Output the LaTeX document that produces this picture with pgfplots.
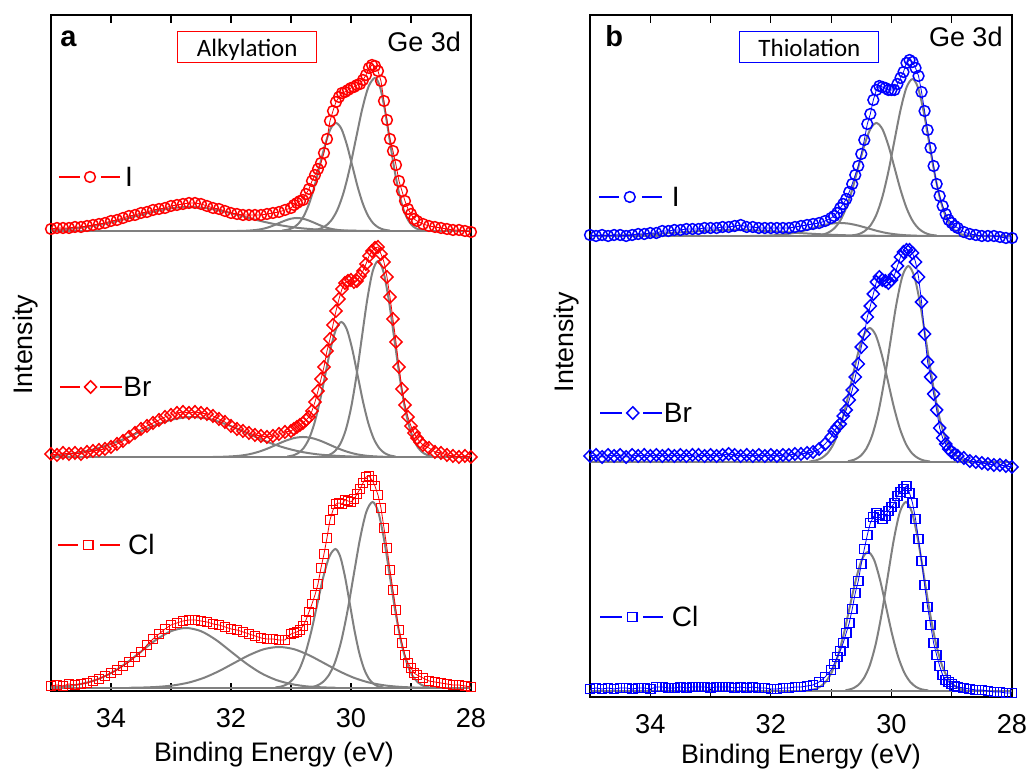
\documentclass[border=0pt]{standalone}
\usepackage{pgfplots}
\pgfplotsset{compat=1.18}
\usepackage{fontspec}
\setmainfont{Liberation Sans}
\newfontfamily\carlito{Carlito}

\pgfplotsset{
  spec/.style={
    scale only axis, x dir=reverse, xmin=28, xmax=35, ymin=0,
    xtick={28,29,...,34}, xticklabels={28,,30,,32,,34},
    ytick=\empty,
    major tick length=4pt, minor tick length=1.5pt,
    axis line style={line width=0.6pt},
    every tick/.style={black, line width=0.6pt},
    tick label style={font=\fontsize{13.6}{16}\selectfont},
    xticklabel style={yshift=-5pt},
    /pgf/number format/assume math mode=true,
    label style={font=\fontsize{13.4}{16}\selectfont},
    xlabel={Binding Energy (eV)}, ylabel={Intensity},
  },
  comp/.style={color=gray, line width=1pt, smooth, mark=none, y filter/.expression={y+#1}},
  base/.style={color=gray, line width=1pt, mark=none, y filter/.expression={y+#1}},
  circ/.style={line width=0.4pt, mark=o, mark size=2.7pt, mark options={line width=0.75pt}},
  diam/.style={line width=0.4pt, mark=diamond, mark size=3.1pt, mark options={line width=0.75pt, xscale=1.3}},
  sq/.style={line width=0.4pt, mark=square, mark size=2.3pt, mark options={line width=0.75pt}},
  off/.style={y filter/.expression={y+#1}},
  leg/.style={line width=0.8pt, mark=none},
}

\begin{document}
\begin{tikzpicture}
\useasboundingbox (0,0) rectangle (514.5pt,384.5pt);

% ---------------- panel a : alkylation ----------------
\begin{axis}[spec, at={(25.5pt,39pt)}, anchor=south west,
  width=210pt, height=338pt, ymax=676,
  minor ytick={16,43,...,664},
  xlabel style={at={(axis description cs:0.531,-0.1046)}, anchor=base},
  ylabel style={at={(axis description cs:-0.0436,0.512)}, anchor=base},
]
% I : fitted components
\addplot[base=460] coordinates {(28,0)(35,0)};
\addplot[comp=460] coordinates {(28.80,0.6)(28.88,1.7)(28.96,4.4)(29.04,10.1)(29.12,20.7)(29.20,38.1)(29.28,62.9)(29.36,92.9)(29.44,122.6)(29.52,144.7)(29.60,153)(29.705,144.7)(29.81,122.6)(29.915,92.9)(30.02,62.9)(30.125,38.1)(30.23,20.7)(30.335,10.1)(30.44,4.4)(30.545,1.7)(30.65,0.6)};
\addplot[comp=460] coordinates {(29.35,0.4)(29.44,1.2)(29.53,3.1)(29.62,7.1)(29.71,14.6)(29.80,26.9)(29.89,44.4)(29.98,65.6)(30.07,86.5)(30.16,102.2)(30.25,108)(30.34,102.2)(30.43,86.5)(30.52,65.6)(30.61,44.4)(30.70,26.9)(30.79,14.6)(30.88,7.1)(30.97,3.1)(31.06,1.2)(31.15,0.4)};
\addplot[comp=460] coordinates {(29.9,0)(30.0,0.1)(30.1,0.4)(30.2,0.9)(30.3,1.8)(30.4,3.2)(30.5,5.3)(30.6,7.9)(30.7,10.4)(30.8,12.3)(30.9,13)(31.0,12.3)(31.1,10.4)(31.2,7.9)(31.3,5.3)(31.4,3.2)(31.5,1.8)(31.6,0.9)(31.7,0.4)(31.8,0.1)(31.9,0)};
\addplot[comp=460] coordinates {(29.7,0.1)(30.0,0.3)(30.3,0.7)(30.6,1.6)(30.9,3.2)(31.2,6.0)(31.5,9.9)(31.8,14.6)(32.1,19.2)(32.4,22.7)(32.7,24)(33.0,22.7)(33.3,19.2)(33.6,14.6)(33.9,9.9)(34.2,6.0)(34.5,3.2)(34.8,1.6)(35.1,0.7)(35.4,0.3)(35.7,0.1)};
% I : data
\addplot[red, circ, off=460] coordinates {
(35.0,2)(34.9,3)(34.8,3)(34.7,3)(34.6,4)(34.5,4)(34.4,5)(34.3,6)(34.2,7)(34.1,8)(34.0,10)(33.9,11)(33.8,13)(33.7,15)(33.6,16)(33.5,18)(33.4,19)(33.3,21)(33.2,22)(33.1,23)(33.0,25)(32.9,26)(32.8,27)(32.7,28)(32.6,28)(32.5,27)(32.4,25)(32.3,23)(32.2,22)(32.1,20)(32.0,18)(31.9,17)(31.8,16)(31.7,16)(31.6,16)(31.5,16)(31.4,17)(31.3,18)(31.2,19)(31.1,21)(31.0,23)
(30.95,26)(30.9,28)(30.85,30)(30.8,31)(30.75,37)(30.7,42)(30.65,50)(30.6,56)(30.55,62)(30.5,68)(30.45,78)(30.4,92)(30.35,110)(30.3,120)(30.25,129)(30.2,134)(30.15,138)(30.1,139)(30.05,141)(30.0,143)(29.95,144)(29.9,146)(29.85,147)(29.8,151)(29.75,156)(29.7,163)(29.65,166)(29.6,165)(29.55,160)(29.5,150)(29.45,130)(29.4,111)(29.35,92)(29.3,80)(29.25,66)(29.2,50)(29.15,40)(29.1,30)(29.05,22)(29.0,17)(28.95,12)(28.9,10)
(28.8,7)(28.7,5)(28.6,4)(28.5,3)(28.4,2)(28.3,1)(28.2,1)(28.1,0)(28.0,-1)};
% Br : fitted components
\addplot[base=234] coordinates {(28,0)(35,0)};
\addplot[comp=234] coordinates {(28.65,0.8)(28.74,2.2)(28.83,5.7)(28.92,12.9)(29.01,26.5)(29.10,48.8)(29.19,80.6)(29.28,119.0)(29.37,157.0)(29.46,185.4)(29.55,196)(29.64,185.4)(29.73,157.0)(29.82,119.0)(29.91,80.6)(30.00,48.8)(30.09,26.5)(30.18,12.9)(30.27,5.7)(30.36,2.2)(30.45,0.8)};
\addplot[comp=234] coordinates {(29.26,0.5)(29.35,1.5)(29.44,3.9)(29.53,8.9)(29.62,18.2)(29.71,33.6)(29.80,55.5)(29.89,81.9)(29.98,108.1)(30.07,127.7)(30.16,135)(30.25,127.7)(30.34,108.1)(30.43,81.9)(30.52,55.5)(30.61,33.6)(30.70,18.2)(30.79,8.9)(30.88,3.9)(30.97,1.5)(31.06,0.5)};
\addplot[comp=234] coordinates {(29.3,0.1)(29.45,0.2)(29.6,0.6)(29.75,1.3)(29.9,2.7)(30.05,5.0)(30.2,8.2)(30.35,12.1)(30.5,16.0)(30.65,18.9)(30.8,20)(30.95,18.9)(31.1,16.0)(31.25,12.1)(31.4,8.2)(31.55,5.0)(31.7,2.7)(31.85,1.3)(32.0,0.6)(32.15,0.2)(32.3,0.1)};
\addplot[comp=234] coordinates {(29.65,0.2)(29.95,0.4)(30.25,1.2)(30.55,2.6)(30.85,5.4)(31.15,10.0)(31.45,16.4)(31.75,24.3)(32.05,32.0)(32.35,37.8)(32.65,40)(32.95,37.8)(33.25,32.0)(33.55,24.3)(33.85,16.4)(34.15,10.0)(34.45,5.4)(34.75,2.6)(35.05,1.2)(35.35,0.4)(35.65,0.2)};
% Br : data
\addplot[red, diam, off=234] coordinates {
(35.0,3)(34.9,2)(34.8,4)(34.7,3)(34.6,4)(34.5,3)(34.4,5)(34.3,6)(34.2,7)(34.1,8)(34.0,10)(33.9,13)(33.8,16)(33.7,20)(33.6,24)(33.5,28)(33.4,31)(33.3,34)(33.2,37)(33.1,40)(33.0,42)(32.9,44)(32.8,45)(32.7,44)(32.6,45)(32.5,44)(32.4,43)(32.3,41)(32.2,38)(32.1,35)(32.0,31)(31.9,28)(31.8,26)(31.7,24)(31.6,22)(31.5,21)(31.4,20)(31.3,21)(31.2,23)(31.1,25)(31.0,26)
(30.95,28)(30.9,30)(30.85,32)(30.8,34)(30.75,37)(30.7,40)(30.65,46)(30.6,55)(30.55,66)(30.5,78)(30.45,90)(30.4,106)(30.35,118)(30.3,132)(30.25,146)(30.2,158)(30.15,168)(30.1,174)(30.05,176)(30.0,177)(29.95,175)(29.9,176)(29.85,181)(29.8,186)(29.75,193)(29.7,201)(29.65,206)(29.6,209)(29.55,210)(29.5,203)(29.45,195)(29.4,180)(29.35,160)(29.3,138)(29.25,115)(29.2,90)(29.15,68)(29.1,52)(29.05,40)(29.0,31)(28.95,24)(28.9,19)(28.85,15)
(28.8,12)(28.7,9)(28.6,5)(28.5,4)(28.4,2)(28.3,1)(28.2,0)(28.1,1)(28.0,0)};
% Cl : fitted components
\addplot[base=3] coordinates {(28,0)(35,0)};
\addplot[comp=3] coordinates {(28.69,0.7)(28.785,2.0)(28.88,5.4)(28.975,12.3)(29.07,25.1)(29.165,46.3)(29.26,76.4)(29.355,112.9)(29.45,149.0)(29.545,176.0)(29.64,186)(29.745,176.0)(29.85,149.0)(29.955,112.9)(30.06,76.4)(30.165,46.3)(30.27,25.1)(30.375,12.3)(30.48,5.4)(30.585,2.0)(30.69,0.7)};
\addplot[comp=3] coordinates {(29.46,0.6)(29.54,1.5)(29.62,4.0)(29.70,9.2)(29.78,18.8)(29.86,34.6)(29.94,57.1)(30.02,84.4)(30.10,111.3)(30.18,131.5)(30.26,139)(30.36,131.5)(30.46,111.3)(30.56,84.4)(30.66,57.1)(30.76,34.6)(30.86,18.8)(30.96,9.2)(31.06,4.0)(31.16,1.5)(31.26,0.6)};
\addplot[comp=3] coordinates {(28.7,0.2)(28.95,0.5)(29.2,1.2)(29.45,2.7)(29.7,5.5)(29.95,10.2)(30.2,16.9)(30.45,24.9)(30.7,32.8)(30.95,38.8)(31.2,41)(31.45,38.8)(31.7,32.8)(31.95,24.9)(32.2,16.9)(32.45,10.2)(32.7,5.5)(32.95,2.7)(33.2,1.2)(33.45,0.5)(33.7,0.2)};
\addplot[comp=3] coordinates {(30.25,0.2)(30.5,0.7)(30.75,1.7)(31.0,4.0)(31.25,8.1)(31.5,14.9)(31.75,24.7)(32.0,36.4)(32.25,48.1)(32.5,56.8)(32.75,60)(33.0,56.8)(33.25,48.1)(33.5,36.4)(33.75,24.7)(34.0,14.9)(34.25,8.1)(34.5,4.0)(34.75,1.7)(35.0,0.7)(35.25,0.2)};
% Cl : data
\addplot[red, sq, off=3] coordinates {
(35.0,2)(34.9,3)(34.8,2)(34.7,4)(34.6,3)(34.5,4)(34.4,5)(34.3,7)(34.2,9)(34.1,12)(34.0,15)(33.9,18)(33.8,22)(33.7,26)(33.6,31)(33.5,36)(33.4,43)(33.3,49)(33.2,54)(33.1,59)(33.0,63)(32.9,65)(32.8,67)(32.7,68)(32.6,68)(32.5,67)(32.4,66)(32.3,64)(32.2,63)(32.1,61)(32.0,59)(31.9,58)(31.8,56)(31.7,54)(31.6,52)(31.5,50)(31.4,49)(31.3,49)(31.2,48)(31.1,48)(31.0,54)
(30.95,55)(30.9,56)(30.85,58)(30.8,62)(30.75,68)(30.7,76)(30.65,84)(30.6,93)(30.55,104)(30.5,120)(30.45,134)(30.4,150)(30.35,168)(30.3,178)(30.25,184)(30.2,185)(30.15,184)(30.1,188)(30.05,187)(30.0,186)(29.95,189)(29.9,194)(29.85,199)(29.8,205)(29.75,211)(29.7,212)(29.65,208)(29.6,202)(29.55,193)(29.5,180)(29.45,160)(29.4,140)(29.35,118)(29.3,98)(29.25,78)(29.2,58)(29.15,45)(29.1,33)(29.05,25)(29.0,20)(28.95,15)(28.9,13)
(28.8,10)(28.7,7)(28.6,6)(28.5,5)(28.4,4)(28.3,3)(28.2,3)(28.1,2)(28.0,1)};
% legend keys
\addplot[red, leg] coordinates {(34.87,514)(34.52,514)};
\addplot[red, circ, only marks] coordinates {(34.35,514)};
\addplot[red, leg] coordinates {(34.17,514)(33.85,514)};
\addplot[red, leg] coordinates {(34.85,304)(34.52,304)};
\addplot[red, diam, only marks] coordinates {(34.34,304)};
\addplot[red, leg] coordinates {(34.18,304)(33.82,304)};
\addplot[red, leg] coordinates {(34.88,146)(34.55,146)};
\addplot[red, sq, only marks] coordinates {(34.38,146)};
\addplot[red, leg] coordinates {(34.18,146)(33.85,146)};
\node[anchor=west, inner sep=0, font=\fontsize{14}{16}\selectfont] at (axis cs:33.77,514) {I};
\node[anchor=west, inner sep=0, font=\fontsize{14}{16}\selectfont] at (axis cs:33.80,304) {Br};
\node[anchor=west, inner sep=0, font=\fontsize{14}{16}\selectfont] at (axis cs:33.72,146) {Cl};
\node[anchor=base west, inner sep=0, font=\bfseries\fontsize{14.5}{16}\selectfont] at (axis cs:34.85,644) {a};
\node[anchor=base east, inner sep=0, font=\fontsize{13.5}{16}\selectfont] at (axis cs:28.16,639.3) {Ge 3d};
\node[draw=red, line width=0.5pt, minimum width=69.5pt, minimum height=15.5pt, inner sep=0pt, text depth=0pt, font=\carlito\fontsize{12.5}{14}\selectfont] at (axis cs:31.73,643.5) {Alkylation};
\end{axis}

% ---------------- panel b : thiolation ----------------
\begin{axis}[spec, at={(295pt,36pt)}, anchor=south west,
  width=211pt, height=341pt, ymax=682,
  minor ytick={10,37,...,658},
  xlabel style={at={(axis description cs:0.5,-0.098)}, anchor=base},
  ylabel style={at={(axis description cs:-0.0396,0.52)}, anchor=base},
]
% I : fitted components
\addplot[base=461] coordinates {(28,0)(35,0)};
\addplot[comp=461] coordinates {(28.75,0.6)(28.84,1.7)(28.93,4.6)(29.02,10.4)(29.11,21.2)(29.20,39.1)(29.29,64.5)(29.38,95.3)(29.47,125.8)(29.56,148.5)(29.65,157)(29.75,148.5)(29.85,125.8)(29.95,95.3)(30.05,64.5)(30.15,39.1)(30.25,21.2)(30.35,10.4)(30.45,4.6)(30.55,1.7)(30.65,0.6)};
\addplot[comp=461] coordinates {(29.25,0.5)(29.35,1.2)(29.45,3.3)(29.55,7.5)(29.65,15.3)(29.75,28.1)(29.85,46.4)(29.95,68.6)(30.05,90.5)(30.15,106.9)(30.25,113)(30.35,106.9)(30.45,90.5)(30.55,68.6)(30.65,46.4)(30.75,28.1)(30.85,15.3)(30.95,7.5)(31.05,3.3)(31.15,1.2)(31.25,0.5)};
\addplot[comp=461] coordinates {(29.35,0)(29.5,0.1)(29.65,0.4)(29.8,0.9)(29.95,1.8)(30.1,3.2)(30.25,5.3)(30.4,7.9)(30.55,10.4)(30.7,12.3)(30.85,13)(31.0,12.3)(31.15,10.4)(31.3,7.9)(31.45,5.3)(31.6,3.2)(31.75,1.8)(31.9,0.9)(32.05,0.4)(32.2,0.1)(32.35,0)};
\addplot[comp=461] coordinates {(29.6,0)(29.9,0.1)(30.2,0.2)(30.5,0.4)(30.8,0.8)(31.1,1.5)(31.4,2.5)(31.7,3.6)(32.0,4.8)(32.3,5.7)(32.6,6)(32.9,5.7)(33.2,4.8)(33.5,3.6)(33.8,2.5)(34.1,1.5)(34.4,0.8)(34.7,0.4)(35.0,0.2)(35.3,0.1)(35.6,0)};
% I : data
\addplot[blue, circ, off=461] coordinates {
(35.0,1)(34.9,0)(34.8,1)(34.7,0)(34.6,1)(34.5,1)(34.4,0)(34.3,1)(34.2,2)(34.1,2)(34.0,3)(33.9,3)(33.8,5)(33.7,5)(33.6,6)(33.5,6)(33.4,7)(33.3,7)(33.2,7)(33.1,8)(33.0,8)(32.9,8)(32.8,9)(32.7,9)(32.6,10)(32.5,11)(32.4,9)(32.3,9)(32.2,8)(32.1,8)(32.0,8)(31.9,8)(31.8,8)(31.7,8)(31.6,9)(31.5,10)(31.4,11)(31.3,12)(31.2,13)(31.1,15)(31.0,18)
(30.95,20)(30.9,23)(30.85,28)(30.8,32)(30.75,37)(30.7,44)(30.65,52)(30.6,61)(30.55,70)(30.5,82)(30.45,96)(30.4,112)(30.35,122)(30.3,136)(30.25,146)(30.2,150)(30.15,149)(30.1,148)(30.05,146)(30.0,146)(29.95,146)(29.9,152)(29.85,158)(29.8,164)(29.75,173)(29.7,176)(29.65,174)(29.6,168)(29.55,160)(29.5,144)(29.45,125)(29.4,106)(29.35,88)(29.3,70)(29.25,52)(29.2,40)(29.15,30)(29.1,22)(29.05,16)(29.0,13)(28.95,10)(28.9,8)
(28.8,4)(28.7,2)(28.6,1)(28.5,0)(28.4,0)(28.3,0)(28.2,-1)(28.1,-2)(28.0,-2)};
% Br : fitted components
\addplot[base=235] coordinates {(28,0)(35,0)};
\addplot[comp=235] coordinates {(28.72,0.8)(28.82,2.2)(28.92,5.7)(29.02,12.9)(29.12,26.5)(29.22,48.8)(29.32,80.6)(29.42,119.0)(29.52,157.0)(29.62,185.4)(29.72,196)(29.82,185.4)(29.92,157.0)(30.02,119.0)(30.12,80.6)(30.22,48.8)(30.32,26.5)(30.42,12.9)(30.52,5.7)(30.62,2.2)(30.72,0.8)};
\addplot[comp=235] coordinates {(29.36,0.5)(29.46,1.5)(29.56,3.9)(29.66,8.8)(29.76,18.1)(29.86,33.4)(29.96,55.1)(30.06,81.3)(30.16,107.3)(30.26,126.8)(30.36,134)(30.46,126.8)(30.56,107.3)(30.66,81.3)(30.76,55.1)(30.86,33.4)(30.96,18.1)(31.06,8.8)(31.16,3.9)(31.26,1.5)(31.36,0.5)};
% Br : data
\addplot[blue, diam, off=235] coordinates {
(35.0,6)(34.9,7)(34.8,5)(34.7,7)(34.6,6)(34.5,7)(34.4,5)(34.3,7)(34.2,6)(34.1,7)(34.0,6)(33.9,7)(33.8,6)(33.7,7)(33.6,6)(33.5,7)(33.4,6)(33.3,7)(33.2,7)(33.1,6)(33.0,7)(32.9,6)(32.8,7)(32.7,8)(32.6,7)(32.5,6)(32.4,7)(32.3,6)(32.2,7)(32.1,6)(32.0,7)(31.9,6)(31.8,7)(31.7,7)(31.6,8)(31.5,8)(31.4,9)(31.3,10)(31.2,13)(31.1,18)(31.0,25)
(30.95,31)(30.9,35)(30.85,38)(30.8,46)(30.75,52)(30.7,62)(30.65,72)(30.6,85)(30.55,98)(30.5,115)(30.45,128)(30.4,145)(30.35,156)(30.3,168)(30.25,180)(30.2,185)(30.15,182)(30.1,181)(30.05,179)(30.0,182)(29.95,187)(29.9,196)(29.85,205)(29.8,210)(29.75,212)(29.7,212)(29.65,209)(29.6,200)(29.55,185)(29.5,160)(29.45,128)(29.4,100)(29.35,85)(29.3,68)(29.25,52)(29.2,34)(29.15,24)(29.1,18)(29.05,13)(29.0,10)(28.95,8)(28.9,6)
(28.8,4)(28.7,1)(28.6,0)(28.5,-1)(28.4,-2)(28.3,-3)(28.2,-3)(28.1,-4)(28.0,-5)};
% Cl : fitted components
\addplot[base=6] coordinates {(28,0)(35,0)};
\addplot[comp=6] coordinates {(28.76,0.8)(28.86,2.1)(28.96,5.5)(29.06,12.5)(29.16,25.5)(29.26,47.1)(29.36,77.7)(29.46,114.7)(29.56,151.4)(29.66,178.8)(29.76,189)(29.86,178.8)(29.96,151.4)(30.06,114.7)(30.16,77.7)(30.26,47.1)(30.36,25.5)(30.46,12.5)(30.56,5.5)(30.66,2.1)(30.76,0.8)};
\addplot[comp=6] coordinates {(29.39,0.6)(29.49,1.5)(29.59,4.0)(29.69,9.2)(29.79,18.8)(29.89,34.6)(29.99,57.1)(30.09,84.4)(30.19,111.3)(30.29,131.5)(30.39,139)(30.49,131.5)(30.59,111.3)(30.69,84.4)(30.79,57.1)(30.89,34.6)(30.99,18.8)(31.09,9.2)(31.19,4.0)(31.29,1.5)(31.39,0.6)};
% Cl : data
\addplot[blue, sq, off=6] coordinates {
(35.0,2)(34.9,3)(34.8,2)(34.7,3)(34.6,2)(34.5,3)(34.4,3)(34.3,2)(34.2,3)(34.1,3)(34.0,2)(33.9,4)(33.8,4)(33.7,3)(33.6,3)(33.5,4)(33.4,3)(33.3,4)(33.2,4)(33.1,4)(33.0,3)(32.9,4)(32.8,4)(32.7,4)(32.6,3)(32.5,4)(32.4,3)(32.3,4)(32.2,3)(32.1,3)(32.0,2)(31.9,2)(31.8,3)(31.7,3)(31.6,4)(31.5,4)(31.4,5)(31.3,6)(31.2,9)(31.1,14)(31.0,21)
(30.95,27)(30.9,34)(30.85,40)(30.8,48)(30.75,58)(30.7,68)(30.65,82)(30.6,98)(30.55,110)(30.5,127)(30.45,142)(30.4,156)(30.35,168)(30.3,174)(30.25,178)(30.2,176)(30.15,172)(30.1,175)(30.05,180)(30.0,184)(29.95,188)(29.9,195)(29.85,199)(29.8,202)(29.75,205)(29.7,198)(29.65,188)(29.6,172)(29.55,152)(29.5,130)(29.45,106)(29.4,84)(29.35,66)(29.3,48)(29.25,36)(29.2,25)(29.15,16)(29.1,11)(29.05,9)(29.0,7)(28.95,5)(28.9,4)
(28.8,3)(28.7,2)(28.6,1)(28.5,1)(28.4,0)(28.3,-1)(28.2,-1)(28.1,-2)(28.0,-2)};
% legend keys
\addplot[blue, leg] coordinates {(34.85,500)(34.52,500)};
\addplot[blue, circ, only marks] coordinates {(34.34,500)};
\addplot[blue, leg] coordinates {(34.14,500)(33.81,500)};
\addplot[blue, leg] coordinates {(34.83,284)(34.47,284)};
\addplot[blue, diam, only marks] coordinates {(34.29,284)};
\addplot[blue, leg] coordinates {(34.12,284)(33.81,284)};
\addplot[blue, leg] coordinates {(34.83,80)(34.47,80)};
\addplot[blue, sq, only marks] coordinates {(34.30,80)};
\addplot[blue, leg] coordinates {(34.12,80)(33.79,80)};
\node[anchor=west, inner sep=0, font=\fontsize{14}{16}\selectfont] at (axis cs:33.65,500) {I};
\node[anchor=west, inner sep=0, font=\fontsize{14}{16}\selectfont] at (axis cs:33.78,284) {Br};
\node[anchor=west, inner sep=0, font=\fontsize{14}{16}\selectfont] at (axis cs:33.65,80) {Cl};
\node[anchor=base west, inner sep=0, font=\bfseries\fontsize{14.5}{16}\selectfont] at (axis cs:34.75,650) {b};
\node[anchor=base east, inner sep=0, font=\fontsize{13.5}{16}\selectfont] at (axis cs:28.15,650) {Ge 3d};
\node[draw=blue, line width=0.5pt, minimum width=69.5pt, minimum height=15.5pt, inner sep=0pt, text depth=0pt, font=\carlito\fontsize{12.5}{14}\selectfont] at (axis cs:31.36,649.5) {Thiolation};
\end{axis}
\end{tikzpicture}
\end{document}
